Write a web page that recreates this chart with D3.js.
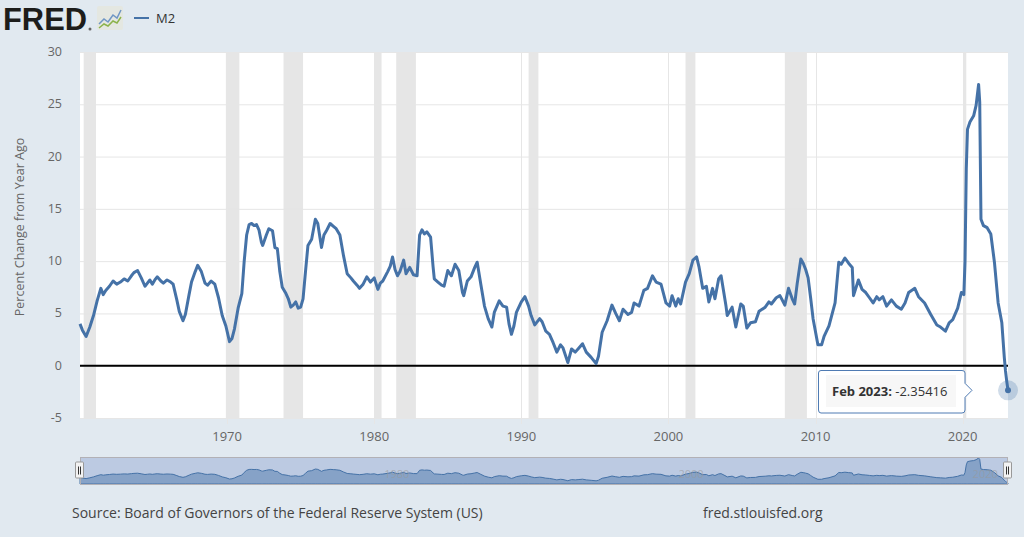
<!DOCTYPE html>
<html>
<head>
<meta charset="utf-8">
<script src="https://cdn.jsdelivr.net/npm/d3@7"></script>
<style>
  html, body { margin: 0; padding: 0; background: #e1e9f0; }
  svg { display: block; }
</style>
</head>
<body>
<div id="chart"></div>
<script>
const width = 1024;
const height = 537;

// M2, percent change from year ago
const m2Series = [
  ["1960-01", 4.0], ["1960-03", 3.4], ["1960-06", 2.8], ["1960-09", 3.7], ["1960-12", 4.8],
  ["1961-03", 6.2], ["1961-06", 7.4], ["1961-08", 6.8], ["1961-10", 7.2], ["1962-01", 7.6],
  ["1962-04", 8.1], ["1962-07", 7.8], ["1962-10", 8.0], ["1963-01", 8.3], ["1963-04", 8.1],
  ["1963-07", 8.6], ["1963-09", 8.9], ["1963-12", 9.1], ["1964-03", 8.4], ["1964-06", 7.6],
  ["1964-08", 7.9], ["1964-10", 8.2], ["1964-12", 7.8], ["1965-02", 8.2], ["1965-04", 8.5],
  ["1965-07", 8.1], ["1965-09", 7.9], ["1965-12", 8.2], ["1966-03", 8.0], ["1966-05", 7.8],
  ["1966-08", 6.3], ["1966-10", 5.2], ["1967-01", 4.3], ["1967-03", 4.9], ["1967-06", 6.8],
  ["1967-08", 8.0], ["1967-11", 9.0], ["1968-01", 9.6], ["1968-04", 9.0], ["1968-07", 7.9],
  ["1968-09", 7.7], ["1968-12", 8.1], ["1969-03", 7.8], ["1969-06", 6.5], ["1969-09", 4.8],
  ["1969-12", 3.8], ["1970-03", 2.3], ["1970-05", 2.6], ["1970-07", 3.5], ["1970-10", 5.5],
  ["1971-01", 6.9], ["1971-03", 10.0], ["1971-05", 12.5], ["1971-07", 13.5], ["1971-09", 13.6],
  ["1971-11", 13.4], ["1972-01", 13.5], ["1972-03", 13.0], ["1972-05", 11.8], ["1972-06", 11.5],
  ["1972-09", 12.5], ["1972-11", 13.1], ["1973-02", 12.9], ["1973-04", 11.3], ["1973-06", 11.2],
  ["1973-08", 9.0], ["1973-10", 7.5], ["1974-01", 6.9], ["1974-03", 6.4], ["1974-05", 5.6],
  ["1974-07", 5.8], ["1974-09", 6.1], ["1974-11", 5.5], ["1975-01", 5.6], ["1975-03", 6.4],
  ["1975-05", 9.0], ["1975-07", 11.5], ["1975-10", 12.1], ["1976-01", 14.0], ["1976-03", 13.6],
  ["1976-06", 11.3], ["1976-08", 12.5], ["1976-10", 12.9], ["1977-01", 13.6], ["1977-04", 13.3],
  ["1977-06", 13.1], ["1977-09", 12.5], ["1977-12", 10.5], ["1978-03", 8.8], ["1978-06", 8.4],
  ["1978-08", 8.1], ["1978-11", 7.7], ["1979-01", 7.4], ["1979-04", 7.8], ["1979-07", 8.5],
  ["1979-10", 8.0], ["1980-01", 8.4], ["1980-04", 7.3], ["1980-06", 7.9], ["1980-08", 8.1],
  ["1980-12", 9.0], ["1981-02", 9.5], ["1981-04", 10.4], ["1981-06", 9.2], ["1981-08", 8.6],
  ["1981-10", 9.0], ["1982-01", 10.1], ["1982-03", 8.8], ["1982-06", 9.4], ["1982-09", 8.7],
  ["1982-12", 8.6], ["1983-02", 12.5], ["1983-04", 13.0], ["1983-06", 12.6], ["1983-08", 12.8],
  ["1983-11", 12.3], ["1984-01", 9.5], ["1984-02", 8.3], ["1984-05", 8.0], ["1984-08", 7.7],
  ["1984-10", 7.6], ["1985-01", 9.1], ["1985-04", 8.6], ["1985-07", 9.7], ["1985-10", 9.1],
  ["1986-01", 7.0], ["1986-02", 6.7], ["1986-05", 8.1], ["1986-08", 8.5], ["1986-11", 9.4],
  ["1987-01", 9.9], ["1987-04", 7.8], ["1987-07", 5.7], ["1987-10", 4.5], ["1988-01", 3.7],
  ["1988-03", 5.1], ["1988-07", 6.2], ["1988-10", 5.7], ["1989-01", 5.6], ["1989-03", 4.0],
  ["1989-05", 3.0], ["1989-07", 3.8], ["1989-09", 5.1], ["1990-01", 6.1], ["1990-04", 6.6],
  ["1990-07", 5.7], ["1990-09", 4.8], ["1990-12", 3.9], ["1991-04", 4.5], ["1991-06", 4.2],
  ["1991-09", 3.3], ["1991-12", 3.0], ["1992-03", 2.2], ["1992-06", 1.3], ["1992-09", 2.0],
  ["1992-11", 1.7], ["1993-03", 0.3], ["1993-06", 1.6], ["1993-09", 1.3], ["1993-12", 1.7],
  ["1994-03", 2.1], ["1994-06", 1.3], ["1994-10", 0.8], ["1995-02", 0.2], ["1995-04", 0.9],
  ["1995-07", 3.2], ["1995-11", 4.3], ["1996-03", 5.8], ["1996-06", 5.0], ["1996-09", 4.3],
  ["1996-12", 5.4], ["1997-04", 4.9], ["1997-07", 5.1], ["1997-09", 6.0], ["1998-01", 5.7],
  ["1998-05", 7.2], ["1998-08", 7.4], ["1998-12", 8.6], ["1999-03", 8.0], ["1999-07", 7.8],
  ["1999-11", 6.0], ["2000-02", 5.7], ["2000-04", 6.7], ["2000-07", 5.7], ["2000-09", 6.4],
  ["2000-11", 5.9], ["2001-03", 8.0], ["2001-06", 8.8], ["2001-09", 10.1], ["2001-12", 10.4],
  ["2002-02", 9.4], ["2002-05", 7.4], ["2002-08", 7.6], ["2002-10", 6.1], ["2003-01", 7.4],
  ["2003-03", 6.4], ["2003-06", 8.3], ["2003-08", 8.6], ["2003-12", 5.7], ["2004-01", 4.8],
  ["2004-05", 5.6], ["2004-08", 3.7], ["2004-12", 5.9], ["2005-02", 5.7], ["2005-05", 3.6],
  ["2005-08", 4.1], ["2005-12", 4.2], ["2006-03", 5.2], ["2006-08", 5.6], ["2006-11", 6.1],
  ["2007-01", 5.9], ["2007-05", 6.5], ["2007-08", 6.7], ["2007-12", 5.8], ["2008-03", 7.4],
  ["2008-06", 6.4], ["2008-08", 5.9], ["2008-10", 7.8], ["2009-01", 10.2], ["2009-03", 9.8],
  ["2009-05", 9.2], ["2009-07", 8.4], ["2009-09", 6.5], ["2009-11", 4.5], ["2010-03", 2.0],
  ["2010-06", 2.0], ["2010-08", 2.8], ["2010-12", 3.8], ["2011-05", 6.0], ["2011-08", 9.9],
  ["2011-10", 9.7], ["2012-01", 10.3], ["2012-04", 9.8], ["2012-07", 9.4], ["2012-08", 6.7],
  ["2012-12", 8.2], ["2013-03", 7.3], ["2013-06", 7.0], ["2013-09", 6.5], ["2013-12", 6.0],
  ["2014-03", 6.6], ["2014-05", 6.3], ["2014-08", 6.6], ["2014-11", 5.7], ["2015-03", 6.3],
  ["2015-07", 5.7], ["2015-11", 5.4], ["2016-02", 6.0], ["2016-05", 7.0], ["2016-10", 7.4],
  ["2017-01", 6.6], ["2017-06", 6.0], ["2017-11", 4.9], ["2018-04", 3.9], ["2018-07", 3.7],
  ["2018-11", 3.3], ["2019-02", 4.1], ["2019-05", 4.4], ["2019-09", 5.5], ["2019-12", 7.0],
  ["2020-02", 6.8], ["2020-03", 10.0], ["2020-04", 18.8], ["2020-05", 22.6], ["2020-07", 23.3],
  ["2020-10", 23.9], ["2020-12", 24.9], ["2021-02", 26.9], ["2021-03", 25.2], ["2021-04", 14.0],
  ["2021-06", 13.4], ["2021-09", 13.2], ["2021-12", 12.6], ["2022-03", 9.9], ["2022-06", 6.0],
  ["2022-09", 4.1], ["2022-11", 0.8], ["2022-12", -0.5], ["2023-01", -1.5], ["2023-02", -2.35416]
];

// NBER recessions (shaded)
const recessions = [
  ["1960-04", "1961-02"], ["1969-12", "1970-11"], ["1973-11", "1975-03"],
  ["1980-01", "1980-07"], ["1981-07", "1982-11"], ["1990-07", "1991-03"],
  ["2001-03", "2001-11"], ["2007-12", "2009-06"], ["2020-02", "2020-04"]
];

const yTicks = [-5, 0, 5, 10, 15, 20, 25, 30];
const xTickYears = [1970, 1980, 1990, 2000, 2010, 2020];
const navLabelYears = [1980, 2000, 2020];

const parse = d3.timeParse("%Y-%m");
const data = m2Series.map(([d, v]) => ({ date: parse(d), value: v }));

const plot = { left: 80, right: 1008, top: 52, bottom: 418 };
const nav = { top: 457, bottom: 484 };

const x = d3.scaleTime()
    .domain([parse("1960-01"), parse("2023-02")])
    .range([plot.left, plot.right]);

const y = d3.scaleLinear()
    .domain([-5, 30])
    .range([plot.bottom, plot.top]);

const yNav = d3.scaleLinear()
    .domain(d3.extent(data, d => d.value))
    .range([nav.bottom - 1, nav.top + 1]);

const svg = d3.create("svg")
    .attr("width", width)
    .attr("height", height)
    .attr("viewBox", [0, 0, width, height])
    .style("font-family", "'Open Sans', sans-serif");

svg.append("rect")
    .attr("width", width)
    .attr("height", height)
    .attr("fill", "#e1e9f0");

// header: logo + legend
const head = svg.append("g");
head.append("text")
    .attr("x", 3)
    .attr("y", 30)
    .attr("font-family", "'Liberation Sans', Arial, sans-serif")
    .attr("font-weight", 900)
    .attr("font-size", 31)
    .attr("textLength", 84)
    .attr("lengthAdjust", "spacingAndGlyphs")
    .attr("fill", "#1d1d1b")
    .text("FRED");
head.append("circle").attr("cx", 90).attr("cy", 29).attr("r", 1.5).attr("fill", "#666");
head.append("rect")
    .attr("x", 97).attr("y", 6).attr("width", 26).attr("height", 24).attr("rx", 2)
    .attr("fill", "#e4e7e1");
head.append("path")
    .attr("d", "M99,24 L104,19 L108,22 L113,15 L117,18 L121,10")
    .attr("fill", "none").attr("stroke", "#6f96c5").attr("stroke-width", 1.5);
head.append("path")
    .attr("d", "M99,28 L104,24 L108,26 L113,21 L117,23 L121,17")
    .attr("fill", "none").attr("stroke", "#8cb34b").attr("stroke-width", 1.5);

head.append("line")
    .attr("x1", 134).attr("x2", 149).attr("y1", 18).attr("y2", 18)
    .attr("stroke", "#4572a7").attr("stroke-width", 2);
head.append("text")
    .attr("x", 156).attr("y", 23)
    .attr("font-size", 13)
    .attr("fill", "#333")
    .text("M2");

// plot background
svg.append("rect")
    .attr("x", plot.left)
    .attr("y", plot.top)
    .attr("width", plot.right - plot.left)
    .attr("height", plot.bottom - plot.top)
    .attr("fill", "#fff");

// recession bars
svg.append("g")
    .selectAll("rect")
    .data(recessions)
    .join("rect")
    .attr("x", d => x(parse(d[0])))
    .attr("y", plot.top)
    .attr("width", d => x(parse(d[1])) - x(parse(d[0])))
    .attr("height", plot.bottom - plot.top)
    .attr("fill", "#e6e6e6");

// grid
svg.append("g")
    .selectAll("line")
    .data(yTicks)
    .join("line")
    .attr("x1", plot.left).attr("x2", plot.right)
    .attr("y1", d => y(d) + 0.5).attr("y2", d => y(d) + 0.5)
    .attr("stroke", "#e6e6e6");

svg.append("g")
    .selectAll("line")
    .data(xTickYears)
    .join("line")
    .attr("x1", d => Math.round(x(new Date(d, 0, 1))) + 0.5)
    .attr("x2", d => Math.round(x(new Date(d, 0, 1))) + 0.5)
    .attr("y1", plot.top).attr("y2", plot.bottom + 6)
    .attr("stroke", "#e6e6e6");

// zero line
svg.append("line")
    .attr("x1", plot.left).attr("x2", plot.right)
    .attr("y1", y(0)).attr("y2", y(0))
    .attr("stroke", "#000")
    .attr("stroke-width", 2);

// series
const line = d3.line()
    .x(d => x(d.date))
    .y(d => y(d.value));

svg.append("path")
    .datum(data)
    .attr("fill", "none")
    .attr("stroke", "#4572a7")
    .attr("stroke-width", 3)
    .attr("stroke-linejoin", "round")
    .attr("d", line);

// y axis labels
svg.append("g")
    .attr("font-size", 12.5)
    .attr("fill", "#666")
    .attr("text-anchor", "end")
    .selectAll("text")
    .data(yTicks)
    .join("text")
    .attr("x", 62)
    .attr("y", d => y(d) + 4)
    .text(d => d);

svg.append("text")
    .attr("transform", "translate(24,227) rotate(-90)")
    .attr("text-anchor", "middle")
    .attr("font-size", 12.5)
    .attr("fill", "#666")
    .text("Percent Change from Year Ago");

// x axis labels
svg.append("g")
    .attr("font-size", 13)
    .attr("fill", "#666")
    .attr("text-anchor", "middle")
    .selectAll("text")
    .data(xTickYears)
    .join("text")
    .attr("x", d => x(new Date(d, 0, 1)))
    .attr("y", 441)
    .text(d => d);

// last point: halo, marker, tooltip
const last = data[data.length - 1];
const px = x(last.date), py = y(last.value);
svg.append("circle")
    .attr("cx", px).attr("cy", py).attr("r", 10)
    .attr("fill", "#4572a7").attr("fill-opacity", 0.25);
svg.append("circle")
    .attr("cx", px).attr("cy", py).attr("r", 3)
    .attr("fill", "#4572a7");

const tip = svg.append("g");
const bx0 = 818, bx1 = 965, by0 = 370, by1 = 413, tipY = py;
tip.append("path")
    .attr("d", `M${bx0 + 3},${by0 + 0.5} H${bx1 - 3} Q${bx1},${by0 + 0.5} ${bx1},${by0 + 3}
      V${tipY - 7} L${bx1 + 7},${tipY} L${bx1},${tipY + 7} V${by1 - 3}
      Q${bx1},${by1} ${bx1 - 3},${by1} H${bx0 + 3} Q${bx0 + 0.5},${by1} ${bx0 + 0.5},${by1 - 3}
      V${by0 + 3} Q${bx0 + 0.5},${by0 + 0.5} ${bx0 + 3},${by0 + 0.5}Z`)
    .attr("fill", "#fff")
    .attr("stroke", "#4f7bb3")
    .attr("stroke-width", 1);
tip.append("rect")
    .attr("x", 826).attr("y", 375).attr("width", 130).attr("height", 32)
    .attr("fill", "#f7f7f7");
const tipText = tip.append("text")
    .attr("x", 832).attr("y", 396)
    .attr("font-size", 13)
    .attr("fill", "#333");
tipText.append("tspan").attr("font-weight", 700).text("Feb 2023:");
tipText.append("tspan").text(" " + last.value);

// navigator
svg.append("rect")
    .attr("x", plot.left).attr("y", nav.top)
    .attr("width", plot.right - plot.left).attr("height", nav.bottom - nav.top)
    .attr("fill", "rgb(102,133,194)").attr("fill-opacity", 0.3);

const navArea = d3.area()
    .x(d => x(d.date))
    .y0(nav.bottom)
    .y1(d => yNav(d.value));

svg.append("path")
    .datum(data)
    .attr("fill", "#4572a7")
    .attr("fill-opacity", 0.45)
    .attr("stroke", "#4572a7")
    .attr("stroke-width", 1)
    .attr("d", navArea);

svg.append("g")
    .attr("font-size", 11)
    .attr("fill", "#999")
    .attr("fill-opacity", 0.6)
    .selectAll("text")
    .data(navLabelYears)
    .join("text")
    .attr("x", d => x(new Date(d, 0, 1)) + 10)
    .attr("y", 478)
    .text(d => d);

svg.append("rect")
    .attr("x", plot.left + 0.5).attr("y", nav.top + 0.5)
    .attr("width", plot.right - plot.left - 1).attr("height", nav.bottom - nav.top)
    .attr("fill", "none").attr("stroke", "#b2b1b6");

const handles = svg.append("g")
    .selectAll("g")
    .data([plot.left, plot.right])
    .join("g")
    .attr("transform", d => `translate(${d},${(nav.top + nav.bottom) / 2})`);
handles.append("rect")
    .attr("x", -4.5).attr("y", -8.5).attr("width", 8).attr("height", 16).attr("rx", 1)
    .attr("fill", "#f2f2f2").attr("stroke", "#999");
handles.append("path")
    .attr("d", "M-1.5,-4 V4 M0.5,-4 V4")
    .attr("stroke", "#333").attr("stroke-width", 1);

// source line
svg.append("text")
    .attr("x", 72).attr("y", 518)
    .attr("font-size", 14)
    .attr("fill", "#444")
    .text("Source: Board of Governors of the Federal Reserve System (US)");
svg.append("text")
    .attr("x", 703).attr("y", 518)
    .attr("font-size", 14)
    .attr("fill", "#444")
    .text("fred.stlouisfed.org");

document.getElementById("chart").appendChild(svg.node());
</script>
</body>
</html>
